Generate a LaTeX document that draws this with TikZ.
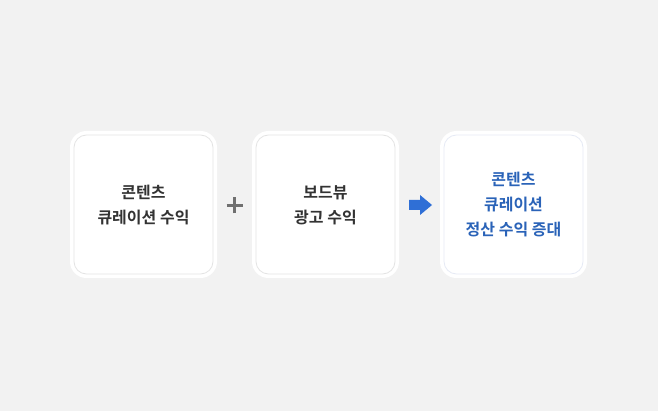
\documentclass[tikz,border=0pt]{standalone}
\usepackage{fontspec}
\newfontfamily\kr{Noto Sans CJK KR Bold}
\definecolor{bg}{HTML}{F2F2F2}
\definecolor{txt}{HTML}{333333}
\definecolor{blu}{HTML}{2A63B8}
\definecolor{arr}{HTML}{2F6FD6}
\definecolor{ring}{HTML}{E4E4E4}
\definecolor{ringb}{HTML}{E6EAF5}
\definecolor{plusc}{HTML}{707070}
\begin{document}
\begin{tikzpicture}[x=1pt,y=-1pt,
  card/.style={draw=white,line width=3pt,fill=white,rounded corners=15pt,minimum width=144pt,minimum height=144pt,inner sep=0pt},
  inring/.style={draw=#1,line width=0.8pt,rounded corners=12.5pt,minimum width=139pt,minimum height=139pt,inner sep=0pt},
  lbl/.style={font=\kr\fontsize{16pt}{25pt}\selectfont,align=center,inner sep=0pt}]
\useasboundingbox[fill=bg] (0,0) rectangle (658,411);
\node[card] (b1) at (143.5,204.5) {};
\node[inring=ring] (r1) at (b1.center) {};
\node[card] (b2) at (325.5,204.5) {};
\node[inring=ring] (r2) at (b2.center) {};
\node[card] (b3) at (513.5,204.5) {};
\node[inring=ringb] (r3) at (b3.center) {};
\node[lbl,text=txt] (t1) at ([yshift=-0.5pt]b1.center) {콘텐츠\\큐레이션 수익};
\node[lbl,text=txt] (t2) at ([yshift=-0.5pt]b2.center) {보드뷰\\광고 수익};
\node[lbl,text=blu] (t3) at ([yshift=-0.5pt]b3.center) {콘텐츠\\큐레이션\\정산 수익 증대};
\coordinate (pc) at (234.5,205.5);
\draw[plusc,line width=3pt] ([xshift=-8pt]pc) -- ([xshift=8pt]pc) ([yshift=-8pt]pc) -- ([yshift=8pt]pc);
\fill[arr] (409,200) -- (420,200) -- (420,195) -- (432,205) -- (420,215) -- (420,210) -- (409,210) -- cycle;
\end{tikzpicture}
\end{document}
